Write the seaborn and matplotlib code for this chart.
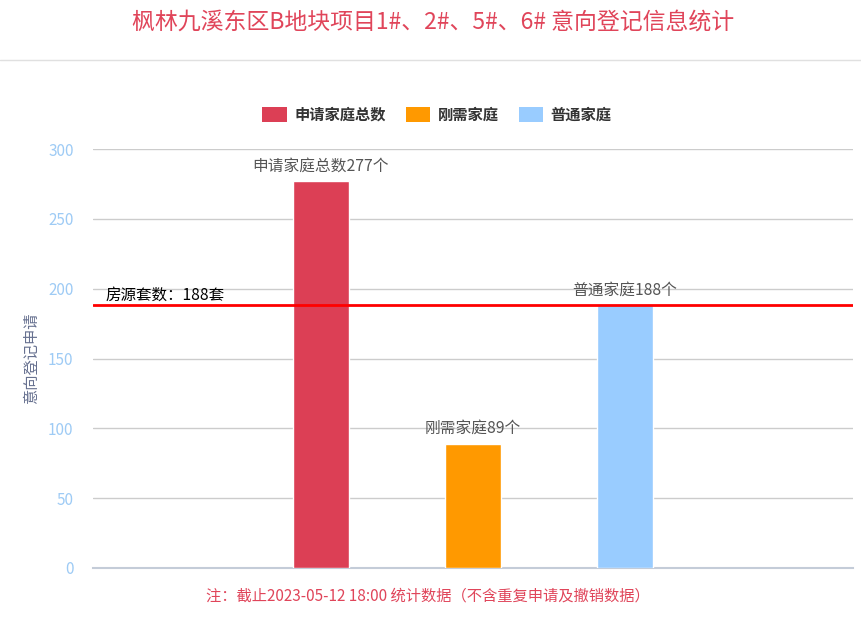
import matplotlib
matplotlib.use("Agg")
import matplotlib.pyplot as plt
import seaborn as sns
import pandas as pd
from matplotlib.patches import Patch
from matplotlib.lines import Line2D

# ---- data ----
slots = ["s0", "s1", "s2", "s3", "s4"]
series = ["申请家庭总数", "刚需家庭", "普通家庭"]
series_slot = ["s1", "s2", "s3"]
values = [277, 89, 188]
bar_labels = ["申请家庭总数277个", "刚需家庭89个", "普通家庭188个"]
colors = ["#dc3f55", "#ff9900", "#99ccff"]
ref_value = 188
ref_label = "房源套数：188套"
y_ticks = [0, 50, 100, 150, 200, 250, 300]
title = "枫林九溪东区B地块项目1#、2#、5#、6# 意向登记信息统计"
ylabel = "意向登记申请"
note = "注：截止2023-05-12 18:00 统计数据（不含重复申请及撤销数据）"

sns.set_theme(style="white")
plt.rcParams["font.family"] = ["Noto Sans CJK SC", "DejaVu Sans"]

df = pd.DataFrame({"slot": series_slot, "series": series, "value": values})

fig = plt.figure(figsize=(8.61, 6.3), dpi=100)
ax = fig.add_axes([93/861, 1-568/630, (853-93)/861, (568-149)/630])

sns.barplot(data=df, x="slot", y="value", hue="series", order=slots,
            hue_order=series, palette=colors, dodge=False, width=0.37,
            saturation=1, ax=ax, legend=False, zorder=3)

ax.set_ylim(0, 300)
ax.set_xlim(-0.5, 4.5)
ax.set_yticks(y_ticks)
ax.set_yticklabels([str(t) for t in y_ticks], color="#9ecbf5", fontsize=11)
ax.tick_params(axis="y", length=0, pad=14)
ax.set_xticks([])
ax.set_xlabel("")
ax.set_ylabel(ylabel, color="#66708f", fontsize=11, labelpad=6)
for sp in ["top", "right", "left"]:
    ax.spines[sp].set_visible(False)
ax.spines["bottom"].set_color("#c4ccd8")
ax.spines["bottom"].set_linewidth(1.5)
for t in y_ticks[1:]:
    ax.axhline(t, color="#cccccc", lw=1, zorder=1)

# bar labels
for s, v, lab in zip(series_slot, values, bar_labels):
    ax.annotate(lab, xy=(slots.index(s), v), xytext=(0, 5), textcoords="offset points",
                ha="center", va="bottom", color="#555555", fontsize=11.3, zorder=5)

# reference line
ax.axhline(ref_value, color="#ff0000", lw=2, zorder=4)
ax.annotate(ref_label, xy=(0, ref_value), xycoords=("axes fraction", "data"),
            xytext=(9, 1), textcoords="offset points", ha="left", va="bottom",
            color="#000000", fontsize=11.2, zorder=5)

# title and separator
fig.text(433/861, 1-22/630, title, ha="center", va="center", color="#e0455a", fontsize=16.5)
fig.add_artist(Line2D([0, 1], [1-60/630, 1-60/630], color="#e0e0e0", lw=1))

# legend
handles = [Patch(facecolor=c, edgecolor="none") for c in colors]
leg = fig.legend(handles, series, loc="center", bbox_to_anchor=(437/861, 1-115/630),
                 ncol=3, frameon=False, handlelength=1.6, handleheight=1.1,
                 columnspacing=1.3, handletextpad=0.5,
                 prop={"size": 11, "weight": "bold"})
for t in leg.get_texts():
    t.set_color("#333333")

fig.text(428/861, 1-596/630, note, ha="center", va="center", color="#e0455a", fontsize=11)

fig.savefig("out.png", dpi=100)
